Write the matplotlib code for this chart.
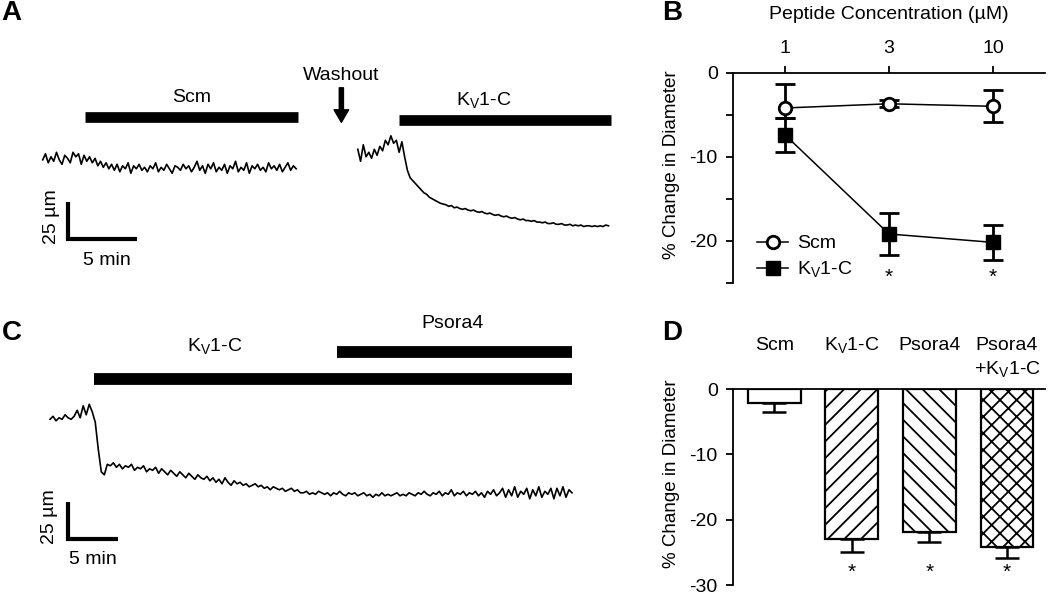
import numpy as np
import matplotlib
matplotlib.use('Agg')
import matplotlib.pyplot as plt
from matplotlib.lines import Line2D

plt.rcParams['font.family'] = ['Liberation Sans', 'DejaVu Sans']
plt.rcParams['mathtext.fontset'] = 'custom'
plt.rcParams['mathtext.rm'] = 'Liberation Sans'
plt.rcParams['axes.unicode_minus'] = False
plt.rcParams['hatch.linewidth'] = 1.3

KV = r'K$_\mathrm{V}$1-C'
FS = 14

# ---- panel A: diameter traces (um), evenly sampled between start/end (min)
scm_trace = [53, 57, 51, 55, 52, 58, 53, 50, 56, 54, 51, 58, 55, 57, 50, 56, 52, 55,
             51, 54, 49, 52, 48, 51, 47, 50,
             46, 50, 45, 49, 47, 51, 44, 49, 47, 50,
             46, 48, 45, 49, 47, 51, 45, 48, 46, 50,
             47, 44, 49, 48, 46, 50, 47, 49, 45, 48,
             52, 46, 49, 44, 50, 47, 51, 45, 48, 46,
             50, 44, 49, 47, 52, 45, 48, 46, 51, 44,
             49, 47, 50, 46, 48, 45, 51, 47, 49, 46,
             50, 45, 48, 51, 46, 49, 47]
scm_span = (0.0, 18.5)
kv_trace_a = [60, 52, 63, 55, 58, 54, 60, 56, 62, 59, 66, 63, 69, 64, 66, 58, 65,
              55, 46, 41, 39, 37, 35, 33, 31, 30, 28,
              27, 26, 25, 24, 23.5, 23, 22, 22.5, 21, 21.5,
              20.5, 20, 20.5, 19.5, 19, 19.5, 18.5, 18, 18.5, 17.5,
              17, 17.5, 16.5, 16, 16.5, 15.5, 15, 15.5, 14.5, 14,
              14.5, 13.5, 13, 13.5, 12.5, 12.5, 12, 12.5, 11.5, 11.5,
              11, 11.5, 10.5, 10.5, 11, 10, 10, 10.5, 9.5, 9.5,
              10, 9, 9.5, 9, 9.5, 8.5, 9, 9, 8.5, 9,
              8.5, 9, 8.5, 9.5, 9]
kv_span_a = (23.0, 41.3)
scm_bar = (3.1, 18.65)
kv_bar_a = (26.0, 41.5)
washout_t = 21.8

# ---- panel C
trace_c = [80, 82, 79, 81, 80, 83, 81, 80, 82, 86, 81, 89, 83, 90, 85,
           78, 60, 45, 43, 50,
           49, 51, 48, 50, 47, 49, 48, 50, 46, 48, 47, 49, 45, 47, 46, 48, 44, 47, 45, 43,
           46, 44, 42, 45, 43, 41, 44, 42, 40, 43, 41,
           40, 42, 39, 41, 38, 40, 37, 41, 38, 36, 39, 37, 38, 36, 37, 35, 36, 37, 35, 36,
           34, 35, 33, 35, 34, 33, 34, 32, 33, 34, 32, 33, 31,
           31, 32, 30, 31, 30, 32, 31, 30, 31, 29, 31, 30, 32, 30, 29, 31, 30, 31, 29, 30,
           31, 29, 30, 28, 30, 29, 31, 29, 30, 29,
           30, 31, 29, 30, 29, 31, 30, 29, 31, 30, 32, 30, 29, 31, 30, 32, 29, 31, 30, 33,
           29, 31, 30, 32, 29, 31, 30, 32, 29, 31,
           28, 32, 30, 33, 29, 31,
           34, 28, 33, 29, 35, 28, 32, 30, 34, 27, 33, 29, 35, 28, 32, 30, 34, 27, 34, 29,
           35, 28, 33, 31]
c_span = (0.0, 52.2)
kv_bar_c = (4.43, 52.2)
psora_bar_c = (28.7, 52.2)

# ---- panel B
conc = ['1', '3', '10']
scm_mean = [-4.2, -3.7, -4.0]
scm_err_lo = [1.2, 0.4, 1.9]
scm_err_hi = [2.9, 0.4, 1.9]
kv_mean = [-7.4, -19.2, -20.2]
kv_err = [2.0, 2.55, 2.1]
sig_b = [False, True, True]

# ---- panel D
groups = ['Scm', KV, 'Psora4', 'Psora4\n+' + KV]
d_mean = [-2.2, -23.0, -21.9, -24.2]
d_err = [1.3, 2.0, 1.45, 1.6]
d_sig = [False, True, True, True]
d_hatch = ['', '//', '\\\\', 'xx']

W, H = 1050, 597
fig = plt.figure(figsize=(W / 100, H / 100), dpi=100)


def px_axes(l, t, r, b):
    return fig.add_axes([l / W, 1 - b / H, (r - l) / W, (b - t) / H])


def trace_axes(l, t, r, b, x0px, y0px, pxmin, pxum):
    ax = px_axes(l, t, r, b)
    ax.set_xlim((l - x0px) / pxmin, (r - x0px) / pxmin)
    ax.set_ylim((y0px - b) / pxum, (y0px - t) / pxum)
    ax.axis('off')
    return ax


def plot_trace(ax, vals, span):
    t = np.linspace(span[0], span[1], len(vals))
    ax.plot(t, vals, color='k', lw=1.2)


def scalebar(ax, x0):
    ax.plot([x0, x0, x0 + 5], [25, 0, 0], color='k', lw=3,
            solid_joinstyle='miter', solid_capstyle='butt')


def drug_bar(ax, span, y, lw):
    ax.plot(span, [y, y], color='k', lw=lw, solid_capstyle='butt')


# ---------------- A
axA = trace_axes(25, 40, 630, 285, 42.7, 239.3, 13.7, 1.5)
plot_trace(axA, scm_trace, scm_span)
plot_trace(axA, kv_trace_a, kv_span_a)
drug_bar(axA, scm_bar, 81.3, 7.7)
drug_bar(axA, kv_bar_a, 79.5, 7.7)
axA.text(np.mean(scm_bar), 94.5, 'Scm', fontsize=FS, ha='center', va='center')
axA.text(32.2, 92, KV, fontsize=FS, ha='center', va='center')
axA.text(washout_t, 109.5, 'Washout', fontsize=FS, ha='center', va='center')
axA.annotate('', xy=(washout_t, 78), xytext=(washout_t, 101),
             arrowprops=dict(arrowstyle='simple,head_length=0.6,head_width=0.7,tail_width=0.2',
                             fc='k', ec='k', mutation_scale=15, shrinkA=0, shrinkB=0))
scalebar(axA, 1.85)
axA.text(0.66, 15, '25 µm', fontsize=FS, rotation=90, ha='center', va='center')
axA.text(4.67, -14.3, '5 min', fontsize=FS, ha='center', va='center')

# ---------------- C
axC = trace_axes(25, 300, 610, 585, 50, 539.3, 10, 1.5)
plot_trace(axC, trace_c, c_span)
drug_bar(axC, kv_bar_c, 106.9, 8.5)
drug_bar(axC, psora_bar_c, 124.7, 8.5)
axC.text(16.5, 128.4, KV, fontsize=FS, ha='center', va='center')
axC.text(40.3, 144.2, 'Psora4', fontsize=FS, ha='center', va='center')
scalebar(axC, 1.83)
axC.text(0.0, 15, '25 µm', fontsize=FS, rotation=90, ha='center', va='center')
axC.text(4.33, -13.8, '5 min', fontsize=FS, ha='center', va='center')

# ---------------- B
axB = px_axes(733, 72.7, 1045, 282.7)
xb = np.arange(1, len(conc) + 1)
axB.errorbar(xb, scm_mean, yerr=[scm_err_lo, scm_err_hi], fmt='o-', color='k',
             mfc='white', mec='k', mew=2, ms=9, lw=1.1, elinewidth=2,
             capsize=7.5, capthick=2, zorder=3)
axB.errorbar(xb, kv_mean, yerr=kv_err, fmt='s-', color='k', mfc='k', mec='k',
             ms=9.5, lw=1.1, elinewidth=2, capsize=7.5, capthick=2, zorder=4)
for x, s in zip(xb, sig_b):
    if s:
        axB.text(x, -24.4, '*', fontsize=15, ha='center', va='center')
axB.set_xlim(0.5, 3.5)
axB.set_ylim(-25, 0)
axB.xaxis.tick_top()
axB.set_xticks(xb)
axB.set_xticklabels(conc)
axB.set_yticks([0, -5, -10, -15, -20, -25])
axB.set_yticklabels(['0', '', '-10', '', '-20', ''])
axB.tick_params(axis='x', direction='out', length=5, width=1.3, pad=6, labelsize=FS)
axB.tick_params(axis='y', direction='out', length=5, width=1.3, pad=6, labelsize=FS)
for s in ['right', 'bottom']:
    axB.spines[s].set_visible(False)
for s in ['left', 'top']:
    axB.spines[s].set_linewidth(1.3)
axB.text(0.5, 1.275, 'Peptide Concentration (µM)', transform=axB.transAxes,
         fontsize=FS, ha='center', va='center')
axB.set_ylabel('% Change in Diameter', fontsize=13.5)
axB.yaxis.set_label_coords(-0.17, 0.56)
handles = [Line2D([], [], color='k', lw=1.1, marker='o', ms=9, mfc='white', mec='k', mew=2),
           Line2D([], [], color='k', lw=1.1, marker='s', ms=9.5, mfc='k', mec='k')]
axB.legend(handles, ['Scm', KV], loc='lower left', bbox_to_anchor=(0.04, -0.045),
           frameon=False, fontsize=FS, handlelength=1.6, handletextpad=0.45,
           labelspacing=0.4, borderaxespad=0.2)

# ---------------- D
axD = px_axes(733, 389, 1045, 585)
xd = np.arange(len(groups))
axD.bar(xd, d_mean, width=0.68, color='white', edgecolor='k', linewidth=1.6,
        hatch=d_hatch, zorder=3)
axD.errorbar(xd, d_mean, yerr=[d_err, [0] * len(d_err)], fmt='none', ecolor='k',
             elinewidth=1.8, capsize=8.5, capthick=1.8, zorder=2)
for x, s in zip(xd, d_sig):
    if s:
        axD.text(x, -28.0, '*', fontsize=15, ha='center', va='center')
for x, g in zip(xd, groups):
    axD.text(x, 1.22, g.split('\n')[0], transform=axD.get_xaxis_transform(),
             fontsize=FS, ha='center', va='center')
    if '\n' in g:
        axD.text(x, 1.10, g.split('\n')[1], transform=axD.get_xaxis_transform(),
                 fontsize=FS, ha='center', va='center')
axD.set_xlim(-0.53, 3.49)
axD.set_ylim(-30, 0)
axD.set_xticks([])
axD.set_yticks([0, -10, -20, -30])
axD.set_yticklabels(['0', '-10', '-20', '-30'])
axD.tick_params(axis='y', direction='out', length=5, width=1.3, pad=6, labelsize=FS)
for s in ['right', 'bottom']:
    axD.spines[s].set_visible(False)
for s in ['left', 'top']:
    axD.spines[s].set_linewidth(1.3)
axD.spines['top'].set_zorder(5)
axD.set_ylabel('% Change in Diameter', fontsize=13.5)
axD.yaxis.set_label_coords(-0.17, 0.57)

# panel letters
for letter, (x, y) in zip('ABCD', [(11, 13), (672, 13), (12, 333), (672, 333)]):
    fig.text(x / W, 1 - y / H, letter, fontsize=20, fontweight='bold',
             ha='center', va='center')

fig.savefig('out.png', dpi=100)
